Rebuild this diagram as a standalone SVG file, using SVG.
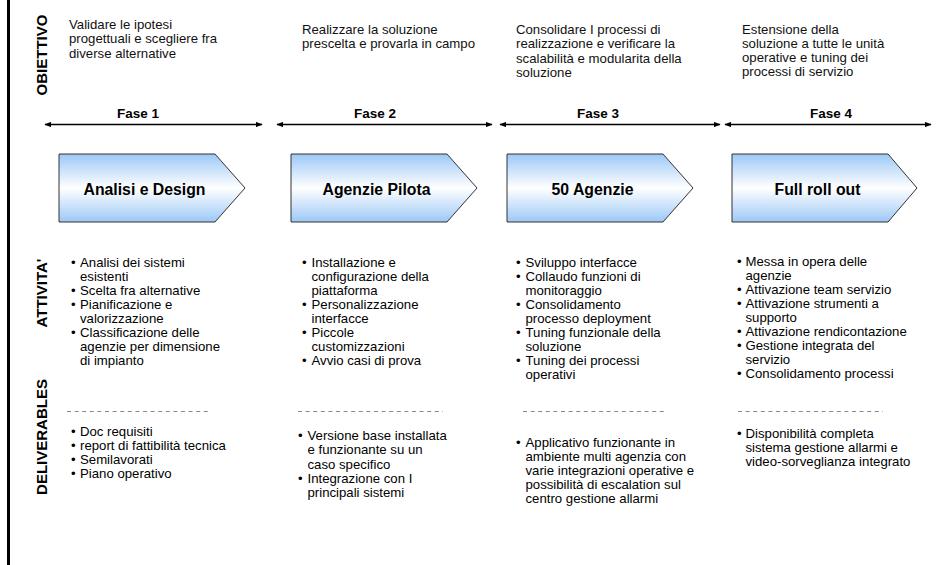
<svg xmlns="http://www.w3.org/2000/svg" width="951" height="565" viewBox="0 0 951 565">
<style>
text{font-family:"Liberation Sans",Arial,sans-serif;fill:#000}
.lbl{font-size:15px;font-weight:bold}
.fase{font-size:13.5px;font-weight:bold;text-anchor:middle}
.chev-t{font-size:15.8px;font-weight:bold;text-anchor:middle}
.obj{font-size:13.2px;fill:#111}
.bl{font-size:13.2px}
.chev{fill:url(#g);stroke:#333;stroke-width:1}
.dash{stroke:#888;stroke-width:1;stroke-dasharray:4 3.6}
.arr{stroke:#000;stroke-width:1.3;fill:none;marker-start:url(#ah);marker-end:url(#ah)}
</style>
<defs>
<linearGradient id="g" x1="0" y1="0" x2="0" y2="1">
<stop offset="0" stop-color="#9cc8f6"/>
<stop offset="0.5" stop-color="#ffffff"/>
<stop offset="1" stop-color="#9cc8f6"/>
</linearGradient>
<marker id="ah" viewBox="0 0 10 10" refX="9" refY="5" markerWidth="7" markerHeight="5.5" markerUnits="userSpaceOnUse" orient="auto-start-reverse" preserveAspectRatio="none">
<path d="M0,0 L10,5 L0,10 Z" fill="#000"/>
</marker>
</defs>
<rect width="951" height="565" fill="#fff"/>
<line x1="8.5" y1="0" x2="8.5" y2="565" stroke="#000" stroke-width="3"/>

<g id="row-labels">
<text class="lbl" transform="translate(47,55) rotate(-90)" text-anchor="middle">OBIETTIVO</text>
<text class="lbl" transform="translate(47,293) rotate(-90)" text-anchor="middle">ATTIVITA'</text>
<text class="lbl" transform="translate(47,437) rotate(-90)" text-anchor="middle">DELIVERABLES</text>
</g>

<g id="objectives">
<text class="obj"><tspan x="69" y="29">Validare le ipotesi</tspan><tspan x="69" y="43.3">progettuali e scegliere fra</tspan><tspan x="69" y="57.6">diverse alternative</tspan></text>
<text class="obj"><tspan x="302" y="34">Realizzare la soluzione</tspan><tspan x="302" y="48.3">prescelta e provarla in campo</tspan></text>
<text class="obj"><tspan x="516" y="34">Consolidare I processi di</tspan><tspan x="516" y="48.3">realizzazione e verificare la</tspan><tspan x="516" y="62.6">scalabilità e modularita della</tspan><tspan x="516" y="76.9">soluzione</tspan></text>
<text class="obj"><tspan x="742" y="33.5">Estensione della</tspan><tspan x="742" y="47.8">soluzione a tutte le unità</tspan><tspan x="742" y="62.1">operative e tuning dei</tspan><tspan x="742" y="76.4">processi di servizio</tspan></text>
</g>

<g id="connectors">
<line class="arr" x1="45" y1="124.5" x2="262" y2="124.5"/>
<line class="arr" x1="277" y1="124.5" x2="492" y2="124.5"/>
<line class="arr" x1="500" y1="124.5" x2="720" y2="124.5"/>
<line class="arr" x1="725" y1="124.5" x2="931" y2="124.5"/>
</g>
<g id="phase-labels">
<text class="fase" x="138" y="118">Fase 1</text>
<text class="fase" x="375" y="118">Fase 2</text>
<text class="fase" x="598" y="118">Fase 3</text>
<text class="fase" x="831" y="118">Fase 4</text>
</g>

<g id="phase1">
<path class="chev" d="M59,154 H215 L245,188 L215,222 H59 Z"/>
<text class="chev-t" x="144.5" y="194.5">Analisi e Design</text>
</g>
<g id="phase2">
<path class="chev" d="M291,154 H447 L477,188 L447,222 H291 Z"/>
<text class="chev-t" x="376.5" y="194.5">Agenzie Pilota</text>
</g>
<g id="phase3">
<path class="chev" d="M507,154 H663 L693,188 L663,222 H507 Z"/>
<text class="chev-t" x="592.5" y="194.5">50 Agenzie</text>
</g>
<g id="phase4">
<path class="chev" d="M732,154 H888 L917,188 L888,222 H732 Z"/>
<text class="chev-t" x="817.5" y="194.5">Full roll out</text>
</g>

<g id="activities1">
<text class="bl"><tspan x="71" y="267">•</tspan><tspan x="80" y="267">Analisi dei sistemi</tspan><tspan x="80" y="281">esistenti</tspan><tspan x="71" y="295">•</tspan><tspan x="80" y="295">Scelta fra alternative</tspan><tspan x="71" y="309">•</tspan><tspan x="80" y="309">Pianificazione e</tspan><tspan x="80" y="323">valorizzazione</tspan><tspan x="71" y="337">•</tspan><tspan x="80" y="337">Classificazione delle</tspan><tspan x="80" y="351">agenzie per dimensione</tspan><tspan x="80" y="365">di impianto</tspan></text>
</g>
<g id="activities2">
<text class="bl"><tspan x="302" y="267">•</tspan><tspan x="311.5" y="267">Installazione e</tspan><tspan x="311.5" y="281">configurazione della</tspan><tspan x="311.5" y="295">piattaforma</tspan><tspan x="302" y="309">•</tspan><tspan x="311.5" y="309">Personalizzazione</tspan><tspan x="311.5" y="323">interfacce</tspan><tspan x="302" y="337">•</tspan><tspan x="311.5" y="337">Piccole</tspan><tspan x="311.5" y="351">customizzazioni</tspan><tspan x="302" y="365">•</tspan><tspan x="311.5" y="365">Avvio casi di prova</tspan></text>
</g>
<g id="activities3">
<text class="bl"><tspan x="516" y="267">•</tspan><tspan x="525.5" y="267">Sviluppo interfacce</tspan><tspan x="516" y="281">•</tspan><tspan x="525.5" y="281">Collaudo funzioni di</tspan><tspan x="525.5" y="295">monitoraggio</tspan><tspan x="516" y="309">•</tspan><tspan x="525.5" y="309">Consolidamento</tspan><tspan x="525.5" y="323">processo deployment</tspan><tspan x="516" y="337">•</tspan><tspan x="525.5" y="337">Tuning funzionale della</tspan><tspan x="525.5" y="351">soluzione</tspan><tspan x="516" y="365">•</tspan><tspan x="525.5" y="365">Tuning dei processi</tspan><tspan x="525.5" y="379">operativi</tspan></text>
</g>
<g id="activities4">
<text class="bl"><tspan x="737" y="266">•</tspan><tspan x="745.5" y="266">Messa in opera delle</tspan><tspan x="745.5" y="280">agenzie</tspan><tspan x="737" y="294">•</tspan><tspan x="745.5" y="294">Attivazione team servizio</tspan><tspan x="737" y="308">•</tspan><tspan x="745.5" y="308">Attivazione strumenti a</tspan><tspan x="745.5" y="322">supporto</tspan><tspan x="737" y="336">•</tspan><tspan x="745.5" y="336">Attivazione rendicontazione</tspan><tspan x="737" y="350">•</tspan><tspan x="745.5" y="350">Gestione integrata del</tspan><tspan x="745.5" y="364">servizio</tspan><tspan x="737" y="378">•</tspan><tspan x="745.5" y="378">Consolidamento processi</tspan></text>
</g>

<g id="separators">
<line class="dash" x1="67" y1="411.5" x2="211" y2="411.5"/>
<line class="dash" x1="298" y1="411.5" x2="443" y2="411.5"/>
<line class="dash" x1="523" y1="411.5" x2="667" y2="411.5"/>
<line class="dash" x1="738" y1="411.5" x2="883" y2="411.5"/>
</g>

<g id="deliverables1">
<text class="bl"><tspan x="71" y="435.5">•</tspan><tspan x="80" y="435.5">Doc requisiti</tspan><tspan x="71" y="449.5">•</tspan><tspan x="80" y="449.5">report di fattibilità tecnica</tspan><tspan x="71" y="463.5">•</tspan><tspan x="80" y="463.5">Semilavorati</tspan><tspan x="71" y="477.5">•</tspan><tspan x="80" y="477.5">Piano operativo</tspan></text>
</g>
<g id="deliverables2">
<text class="bl"><tspan x="298" y="440">•</tspan><tspan x="307.5" y="440">Versione base installata</tspan><tspan x="307.5" y="454.3">e funzionante su un</tspan><tspan x="307.5" y="468.6">caso specifico</tspan><tspan x="298" y="482.9">•</tspan><tspan x="307.5" y="482.9">Integrazione con I</tspan><tspan x="307.5" y="497.2">principali sistemi</tspan></text>
</g>
<g id="deliverables3">
<text class="bl"><tspan x="516" y="446.7">•</tspan><tspan x="525.5" y="446.7">Applicativo funzionante in</tspan><tspan x="525.5" y="460.7">ambiente multi agenzia con</tspan><tspan x="525.5" y="474.7">varie integrazioni operative e</tspan><tspan x="525.5" y="488.7">possibilità di escalation sul</tspan><tspan x="525.5" y="502.7">centro gestione allarmi</tspan></text>
</g>
<g id="deliverables4">
<text class="bl"><tspan x="737" y="437.7">•</tspan><tspan x="745.5" y="437.7">Disponibilità completa</tspan><tspan x="745.5" y="451.7">sistema gestione allarmi e</tspan><tspan x="745.5" y="465.7">video-sorveglianza integrato</tspan></text>
</g>
</svg>
